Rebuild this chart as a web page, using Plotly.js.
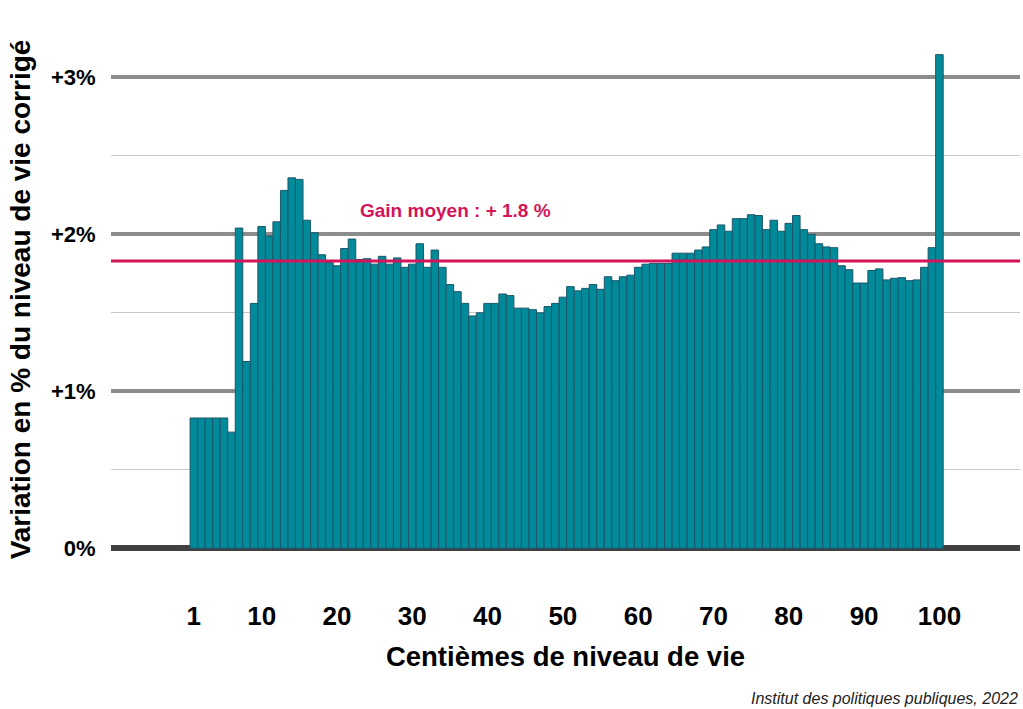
<!DOCTYPE html>
<html>
<head>
<meta charset="utf-8">
<script src="https://cdn.plot.ly/plotly-3.0.1.min.js"></script>
<style>
  html, body { margin: 0; padding: 0; background: #ffffff; }
  #chart { width: 1023px; height: 709px; }
</style>
</head>
<body>
<div id="chart"></div>
<script>
// Centièmes de niveau de vie (1..100)
const centiles = Array.from({length: 100}, (_, i) => i + 1);

// Variation en % du niveau de vie corrigé, par centième
const variation = [
  0.83, 0.83, 0.83, 0.83, 0.83, 0.74, 2.04, 1.19, 1.56, 2.05,
  1.99, 2.08, 2.28, 2.36, 2.35, 2.09, 2.01, 1.87, 1.82, 1.80,
  1.91, 1.97, 1.84, 1.845, 1.81, 1.86, 1.81, 1.85, 1.79, 1.81,
  1.94, 1.79, 1.90, 1.79, 1.68, 1.635, 1.56, 1.48, 1.50, 1.56,
  1.56, 1.62, 1.61, 1.53, 1.53, 1.52, 1.50, 1.54, 1.56, 1.60,
  1.667, 1.64, 1.656, 1.68, 1.65, 1.73, 1.705, 1.73, 1.74, 1.79,
  1.81, 1.815, 1.815, 1.815, 1.88, 1.88, 1.88, 1.90, 1.92, 2.03,
  2.06, 2.02, 2.10, 2.10, 2.125, 2.12, 2.03, 2.09, 2.02, 2.07,
  2.12, 2.03, 2.00, 1.94, 1.92, 1.915, 1.80, 1.775, 1.69, 1.69,
  1.77, 1.78, 1.71, 1.72, 1.724, 1.705, 1.71, 1.79, 1.915, 3.145
];

// Gain moyen
const gainMoyen = 1.83;
const gainLabel = "Gain moyen : + 1.8 %";
const sourceLabel = "Institut des politiques publiques, 2022";

// Tick labels
const xTickVals = [1, 10, 20, 30, 40, 50, 60, 70, 80, 90, 100];
const xTickText = ["1", "10", "20", "30", "40", "50", "60", "70", "80", "90", "100"];
const yTickVals = [0, 1, 2, 3];
const yTickText = ["0%", "+1%", "+2%", "+3%"];
const yMinorVals = [0.5, 1.5, 2.5];

const FONT = "Liberation Sans, Arial, Helvetica, sans-serif";

const traces = [{
  type: "bar",
  x: centiles,
  y: variation,
  width: 1,
  marker: { color: "#008a9a", line: { color: "#1c566a", width: 1 } },
  hoverinfo: "x+y"
}];

const layout = {
  width: 1023,
  height: 709,
  margin: { l: 111, r: 3, t: 46, b: 156 },
  paper_bgcolor: "#ffffff",
  plot_bgcolor: "#ffffff",
  showlegend: false,
  bargap: 0,
  font: { family: FONT, color: "#000000" },
  xaxis: {
    range: [-10, 110.7],
    tickmode: "array",
    tickvals: xTickVals,
    ticktext: xTickText,
    ticks: "outside",
    ticklen: 40,
    tickcolor: "rgba(0,0,0,0)",
    tickfont: { family: FONT, size: 26, color: "#000000", weight: "bold" },
    showgrid: false,
    zeroline: false,
    showline: false,
    title: {
      text: "Centièmes de niveau de vie",
      font: { family: FONT, size: 27.5, color: "#000000", weight: "bold" },
      standoff: 16
    }
  },
  yaxis: {
    range: [-0.03, 3.2],
    tickmode: "array",
    tickvals: yTickVals,
    ticktext: yTickText,
    ticks: "outside",
    ticklen: 10,
    tickcolor: "rgba(0,0,0,0)",
    tickfont: { family: FONT, size: 22, color: "#000000", weight: "bold" },
    showgrid: true,
    gridcolor: "#8c8c8c",
    gridwidth: 4,
    zeroline: true,
    zerolinecolor: "#404040",
    zerolinewidth: 6,
    showline: false,
    minor: {
      tickvals: yMinorVals,
      showgrid: true,
      gridcolor: "#c8c8c8",
      gridwidth: 1,
      ticks: ""
    },
    title: {
      text: "Variation en % du niveau de vie corrigé",
      font: { family: FONT, size: 28, color: "#000000", weight: "bold" },
      standoff: 12
    }
  },
  shapes: [{
    type: "line",
    xref: "paper", x0: 0, x1: 1,
    yref: "y", y0: gainMoyen, y1: gainMoyen,
    line: { color: "#d3145a", width: 3 },
    layer: "above"
  }],
  annotations: [{
    text: gainLabel,
    xref: "x", yref: "y",
    x: 35.7, y: 2.15,
    xanchor: "center", yanchor: "middle",
    showarrow: false,
    font: { family: FONT, size: 19, color: "#d3145a", weight: "bold" }
  }, {
    text: sourceLabel,
    xref: "paper", yref: "paper",
    x: 1, y: 0,
    yshift: -145,
    xanchor: "right", yanchor: "middle",
    showarrow: false,
    font: { family: FONT, size: 16, color: "#222222", style: "italic" }
  }]
};

Plotly.newPlot("chart", traces, layout, { displayModeBar: false, staticPlot: true });
</script>
</body>
</html>
